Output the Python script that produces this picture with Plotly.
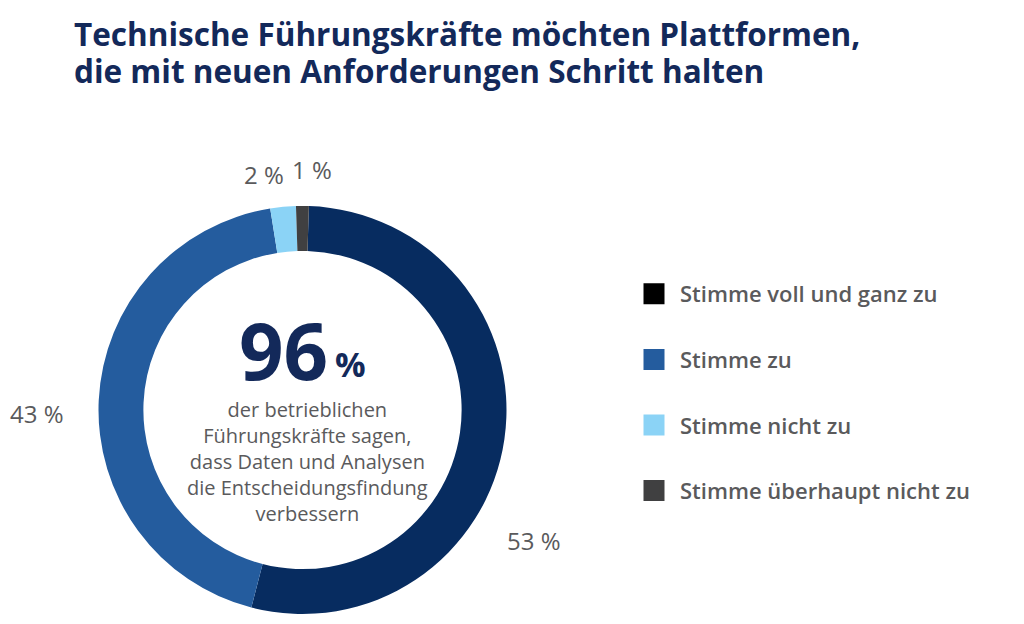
import plotly.graph_objects as go

# ---- data ----
categories = ["Stimme voll und ganz zu", "Stimme zu", "Stimme nicht zu", "Stimme überhaupt nicht zu"]
values = [53, 43, 2, 1]
slice_colors = ["#072c60", "#245c9e", "#8bd3f6", "#404041"]
legend_colors = ["#000000", "#245c9e", "#8bd3f6", "#404041"]
value_labels = [f"{v} %" for v in values]
center_value = "96"
center_text = ["der betrieblichen", "Führungskräfte sagen,", "dass Daten und Analysen",
               "die Entscheidungsfindung", "verbessern"]
title_lines = ["Technische Führungskräfte möchten Plattformen,",
               "die mit neuen Anforderungen Schritt halten"]

W, H = 1024, 624
FONT = "Open Sans"
NAVY = "#13295a"
GREY = "#5a5a5c"

def px(x):
    return x / W

def py(y):
    return 1 - y / H

cx, cy, R = 302.5, 410, 204

fig = go.Figure()
fig.add_trace(go.Pie(
    labels=categories, values=values, sort=False, direction="clockwise", rotation=1.8,
    hole=0.78, textinfo="none", marker=dict(colors=slice_colors, line=dict(width=0)),
    domain=dict(x=[px(cx - R), px(cx + R)], y=[py(cy + R), py(cy - R)]),
    showlegend=False, hoverinfo="label+percent",
))

for name, col in zip(categories, legend_colors):
    fig.add_trace(go.Scatter(
        x=[None], y=[None], mode="markers", name=name, legendgroup=name,
        marker=dict(symbol="square", size=16, color=col, line=dict(color=col, width=5)),
        hoverinfo="skip",
    ))

annotations = []
label_pos = [(533.5, 540.5), (36.5, 413.5), (264, 174), (312, 170)]
for txt, (x, y) in zip(value_labels, label_pos):
    annotations.append(dict(text=txt, x=px(x), y=py(y), xref="paper", yref="paper",
                            showarrow=False, xanchor="center", yanchor="middle",
                            font=dict(family=FONT, size=24, color=GREY)))

annotations.append(dict(text=center_value, x=px(283), y=py(350), xref="paper", yref="paper",
                        showarrow=False, xanchor="center", yanchor="middle",
                        font=dict(family=FONT, size=78, color=NAVY, weight=700)))
annotations.append(dict(text="%", x=px(350), y=py(364), xref="paper", yref="paper",
                        showarrow=False, xanchor="center", yanchor="middle",
                        font=dict(family=FONT, size=34, color=NAVY, weight=700)))
annotations.append(dict(text="<br>".join(center_text), x=px(307), y=py(461), xref="paper", yref="paper",
                        showarrow=False, xanchor="center", yanchor="middle", align="center",
                        font=dict(family=FONT, size=20, color=GREY)))

for line, ymid in zip(title_lines, [33, 70]):
    annotations.append(dict(text=line, x=px(72), y=py(ymid), xref="paper", yref="paper",
                            showarrow=False, xanchor="left", yanchor="middle",
                            font=dict(family=FONT, size=31.5, color=NAVY, weight=700)))

fig.update_layout(
    width=W, height=H,
    margin=dict(l=0, r=0, t=0, b=0, autoexpand=False),
    paper_bgcolor="white", plot_bgcolor="white",
    xaxis=dict(visible=False), yaxis=dict(visible=False),
    legend=dict(x=px(628), y=py(273), xref="paper", yref="paper",
                xanchor="left", yanchor="top", itemwidth=42, tracegroupgap=34,
                font=dict(family=FONT, size=22, color=GREY, weight=600),
                bgcolor="rgba(0,0,0,0)", itemclick=False, itemdoubleclick=False),
    annotations=annotations,
    showlegend=True,
)

fig.write_html("out.html", config={"displayModeBar": False},
               post_script="document.body.style.margin='0px';")
